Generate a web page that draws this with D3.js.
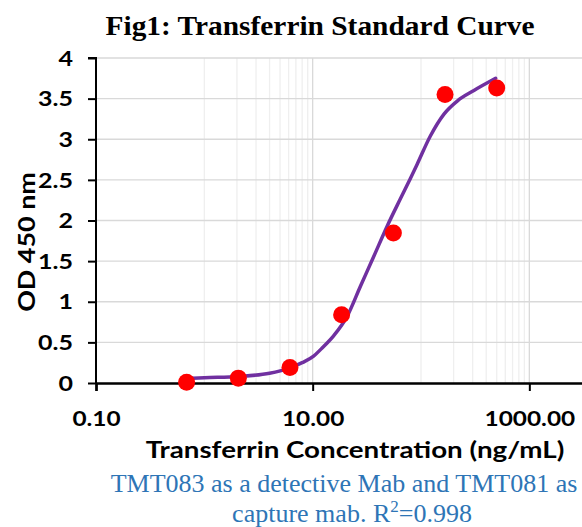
<!DOCTYPE html>
<html>
<head>
<meta charset="utf-8">
<script src="https://cdn.jsdelivr.net/npm/d3@7"></script>
<style>
  body { margin: 0; background: #fff; }
  svg { display: block; }
</style>
</head>
<body>
<svg id="chart"></svg>
<script>
// standard points (3-fold dilutions)
const concentrations = [0.686, 2.06, 6.17, 18.5, 55.6, 166.7, 500];
const odValues = [0.01, 0.06, 0.19, 0.84, 1.845, 3.55, 3.63];

// fitted curve
const fitConc = [0.69, 1.0, 2.06, 4.0, 6.0, 8.0, 10.2, 12, 15.6, 20.8, 27.6, 36.7, 48.7, 64.7, 80, 92, 122, 163, 216, 308, 489];
const fitOd = [0.055, 0.065, 0.08, 0.12, 0.18, 0.25, 0.33, 0.42, 0.58, 0.82, 1.19, 1.56, 1.93, 2.27, 2.52, 2.69, 3.04, 3.31, 3.47, 3.6, 3.75];

const yTicks = [0, 0.5, 1, 1.5, 2, 2.5, 3, 3.5, 4];
const yTickLabels = ['0', '0.5', '1', '1.5', '2', '2.5', '3', '3.5', '4'];
const xTicks = [0.1, 10, 1000];
const xTickLabels = ['0.10', '10.00', '1000.00'];
const minorSteps = [2, 3, 4, 5, 6, 7, 8, 9];

const W = 582, H = 527;
const sansFont = 'Lato, sans-serif';
const serifFont = '"Liberation Serif", "Times New Roman", serif';
const svg = d3.select('#chart').attr('width', W).attr('height', H);

const x = d3.scaleLog().domain([0.1, 100000]).range([96, 746]);
const y = d3.scaleLinear().domain([0, 4]).range([383, 58]);

// minor vertical grid: 1..9 times the value a decade above each major
const minorGrid = [];
[0.1, 10, 1000].forEach(t => {
  const base = t * 10;
  minorGrid.push(base);
  minorSteps.forEach(m => minorGrid.push(base * m));
});

svg.append('g').selectAll('line.minor')
  .data(minorGrid)
  .enter().append('line')
  .attr('x1', d => x(d)).attr('x2', d => x(d))
  .attr('y1', y(4)).attr('y2', y(0))
  .attr('stroke', '#efefef').attr('stroke-width', 1.3);

svg.append('g').selectAll('line.major')
  .data([10, 1000])
  .enter().append('line')
  .attr('x1', d => x(d)).attr('x2', d => x(d))
  .attr('y1', y(4)).attr('y2', y(0))
  .attr('stroke', '#d9d9d9').attr('stroke-width', 1.3);

svg.append('g').selectAll('line.hgrid')
  .data(yTicks.slice(1))
  .enter().append('line')
  .attr('x1', x(0.1)).attr('x2', W)
  .attr('y1', d => y(d)).attr('y2', d => y(d))
  .attr('stroke', '#d9d9d9').attr('stroke-width', 1.3);

// axes (labels stretched a bit sideways to match the wide original font)
const yAxis = d3.axisLeft(y).tickValues(yTicks)
  .tickFormat((d, i) => yTickLabels[i]).tickSize(8);
const gy = svg.append('g').attr('transform', `translate(${x(0.1)},0)`).call(yAxis);
gy.select('.domain').attr('stroke', '#000').attr('stroke-width', 2).attr('d', `M-8,${y(4)}H0V${y(0)}`);
gy.selectAll('.tick line').attr('stroke', '#000').attr('stroke-width', 2);
gy.selectAll('.tick text')
  .attr('x', -23 / 1.25).attr('dy', '0.36em')
  .attr('transform', 'scale(1.25,1)')
  .attr('font-family', sansFont).attr('font-weight', 'bold')
  .attr('font-size', 20).attr('fill', '#000');

const xAxis = d3.axisBottom(x).tickValues(xTicks)
  .tickFormat((d, i) => xTickLabels[i]).tickSize(8);
const gx = svg.append('g').attr('transform', `translate(0,${y(0)})`).call(xAxis);
gx.select('.domain').attr('stroke', '#000').attr('stroke-width', 2.5);
gx.selectAll('.tick line').attr('stroke', '#000').attr('stroke-width', 2);
gx.selectAll('.tick text')
  .attr('y', 43).attr('dy', 0)
  .attr('transform', 'scale(1.22,1)')
  .attr('font-family', sansFont).attr('font-weight', 'bold')
  .attr('font-size', 20).attr('fill', '#000');

// fitted curve
const fitData = fitConc.map((c, i) => ({c: c, v: fitOd[i]}));
const line = d3.line().x(d => x(d.c)).y(d => y(d.v)).curve(d3.curveMonotoneX);
svg.append('path')
  .datum(fitData)
  .attr('d', line)
  .attr('fill', 'none')
  .attr('stroke', '#7030a0')
  .attr('stroke-width', 3.5)
  .attr('stroke-linecap', 'round');

// points
svg.append('g').selectAll('circle')
  .data(concentrations.map((c, i) => ({c: c, v: odValues[i]})))
  .enter().append('circle')
  .attr('cx', d => x(d.c)).attr('cy', d => y(d.v))
  .attr('r', 8.5)
  .attr('fill', '#ff0000');

// titles
svg.append('text')
  .attr('transform', 'translate(320,35) scale(1.05,1)')
  .attr('text-anchor', 'middle')
  .attr('font-family', serifFont)
  .attr('font-weight', 'bold').attr('font-size', 28)
  .text('Fig1: Transferrin Standard Curve');

svg.append('text')
  .attr('transform', 'translate(35,242) rotate(-90) scale(1.17,1)')
  .attr('text-anchor', 'middle')
  .attr('font-family', sansFont)
  .attr('font-weight', 'bold').attr('font-size', 23)
  .text('OD 450 nm');

svg.append('text')
  .attr('transform', 'translate(355,458) scale(1.18,1)')
  .attr('text-anchor', 'middle')
  .attr('font-family', sansFont)
  .attr('font-weight', 'bold').attr('font-size', 23.5)
  .text('Transferrin Concentration (ng/mL)');

const caption = svg.append('g')
  .attr('font-family', serifFont)
  .attr('font-size', 26).attr('fill', '#2e75b6')
  .attr('text-anchor', 'middle');
caption.append('text').attr('x', 344).attr('y', 492)
  .text('TMT083 as a detective Mab and TMT081 as');
const cap2 = caption.append('text').attr('x', 352).attr('y', 522);
cap2.append('tspan').text('capture mab. R');
cap2.append('tspan').attr('dy', -10).attr('font-size', 17).text('2');
cap2.append('tspan').attr('dy', 10).text('=0.998');
</script>
</body>
</html>
